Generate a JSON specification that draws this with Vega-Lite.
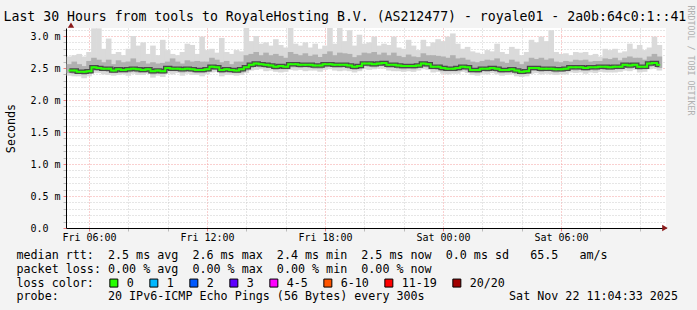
{
  "$schema": "https://vega.github.io/schema/vega-lite/v6.json",
  "width": 600,
  "height": 200,
  "autosize": {"type": "none"},
  "padding": {"left": 66, "top": 28, "right": 31, "bottom": 82},
  "background": "#f3f3f3",
  "config": {
    "font": "DejaVu Sans Mono",
    "view": {"fill": "#ffffff", "stroke": null},
    "axis": {"labelFont": "DejaVu Sans Mono", "labelFontSize": 10, "labelColor": "#000000", "titleFont": "DejaVu Sans Mono", "titleFontWeight": "normal", "titleColor": "#000000", "domainColor": "#000000", "domainWidth": 1}
  },
  "title": {
    "text": "Last 30 Hours from tools to RoyaleHosting B.V. (AS212477) - royale01 - 2a0b:64c0:1::41",
    "anchor": "start", "frame": "group", "font": "DejaVu Sans Mono", "fontSize": 13.2, "fontWeight": "normal", "color": "#000000",
    "dx": -62.5, "dy": 36, "offset": 7, "baseline": "alphabetic"
  },
  "resolve": {"axis": {"y": "independent"}},
  "data": {"values": [
    {"t":"2025-11-21T05:00","m":2.46,"lo":2.38,"ql":2.42,"qh":2.56,"hi":2.68,"loss":"0"},
    {"t":"2025-11-21T05:15","m":2.46,"lo":2.37,"ql":2.41,"qh":2.60,"hi":2.70,"loss":"0"},
    {"t":"2025-11-21T05:30","m":2.44,"lo":2.37,"ql":2.41,"qh":2.56,"hi":2.72,"loss":"0"},
    {"t":"2025-11-21T05:45","m":2.44,"lo":2.34,"ql":2.39,"qh":2.53,"hi":2.68,"loss":"0"},
    {"t":"2025-11-21T06:00","m":2.45,"lo":2.37,"ql":2.41,"qh":2.61,"hi":2.75,"loss":"0"},
    {"t":"2025-11-21T06:15","m":2.51,"lo":2.42,"ql":2.47,"qh":2.66,"hi":3.12,"loss":"0"},
    {"t":"2025-11-21T06:30","m":2.50,"lo":2.42,"ql":2.46,"qh":2.63,"hi":3.12,"loss":"0"},
    {"t":"2025-11-21T06:45","m":2.49,"lo":2.40,"ql":2.45,"qh":2.59,"hi":2.80,"loss":"0"},
    {"t":"2025-11-21T07:00","m":2.49,"lo":2.39,"ql":2.44,"qh":2.63,"hi":2.96,"loss":"0"},
    {"t":"2025-11-21T07:15","m":2.46,"lo":2.38,"ql":2.42,"qh":2.56,"hi":2.72,"loss":"0"},
    {"t":"2025-11-21T07:30","m":2.48,"lo":2.39,"ql":2.43,"qh":2.62,"hi":2.75,"loss":"0"},
    {"t":"2025-11-21T07:45","m":2.47,"lo":2.40,"ql":2.43,"qh":2.59,"hi":2.70,"loss":"0"},
    {"t":"2025-11-21T08:00","m":2.48,"lo":2.38,"ql":2.43,"qh":2.60,"hi":2.80,"loss":"0"},
    {"t":"2025-11-21T08:15","m":2.49,"lo":2.41,"ql":2.45,"qh":2.65,"hi":3.00,"loss":"0"},
    {"t":"2025-11-21T08:30","m":2.48,"lo":2.39,"ql":2.43,"qh":2.59,"hi":2.85,"loss":"0"},
    {"t":"2025-11-21T08:45","m":2.47,"lo":2.39,"ql":2.43,"qh":2.61,"hi":2.90,"loss":"0"},
    {"t":"2025-11-21T09:00","m":2.48,"lo":2.41,"ql":2.45,"qh":2.57,"hi":2.72,"loss":"0"},
    {"t":"2025-11-21T09:15","m":2.45,"lo":2.35,"ql":2.40,"qh":2.59,"hi":2.85,"loss":"0"},
    {"t":"2025-11-21T09:30","m":2.46,"lo":2.38,"ql":2.42,"qh":2.57,"hi":2.70,"loss":"0"},
    {"t":"2025-11-21T09:45","m":2.45,"lo":2.36,"ql":2.41,"qh":2.58,"hi":2.94,"loss":"0"},
    {"t":"2025-11-21T10:00","m":2.50,"lo":2.42,"ql":2.46,"qh":2.60,"hi":2.78,"loss":"0"},
    {"t":"2025-11-21T10:15","m":2.49,"lo":2.40,"ql":2.45,"qh":2.65,"hi":2.72,"loss":"0"},
    {"t":"2025-11-21T10:30","m":2.49,"lo":2.42,"ql":2.45,"qh":2.60,"hi":2.70,"loss":"0"},
    {"t":"2025-11-21T10:45","m":2.48,"lo":2.38,"ql":2.43,"qh":2.57,"hi":2.75,"loss":"0"},
    {"t":"2025-11-21T11:00","m":2.49,"lo":2.41,"ql":2.45,"qh":2.62,"hi":2.88,"loss":"0"},
    {"t":"2025-11-21T11:15","m":2.48,"lo":2.39,"ql":2.44,"qh":2.60,"hi":2.86,"loss":"0"},
    {"t":"2025-11-21T11:30","m":2.47,"lo":2.39,"ql":2.42,"qh":2.61,"hi":2.72,"loss":"0"},
    {"t":"2025-11-21T11:45","m":2.47,"lo":2.37,"ql":2.42,"qh":2.60,"hi":2.99,"loss":"0"},
    {"t":"2025-11-21T12:00","m":2.48,"lo":2.40,"ql":2.44,"qh":2.60,"hi":2.78,"loss":"0"},
    {"t":"2025-11-21T12:15","m":2.52,"lo":2.43,"ql":2.47,"qh":2.66,"hi":2.80,"loss":"0"},
    {"t":"2025-11-21T12:30","m":2.51,"lo":2.44,"ql":2.47,"qh":2.63,"hi":2.74,"loss":"0"},
    {"t":"2025-11-21T12:45","m":2.47,"lo":2.37,"ql":2.42,"qh":2.59,"hi":2.97,"loss":"0"},
    {"t":"2025-11-21T13:00","m":2.48,"lo":2.39,"ql":2.44,"qh":2.61,"hi":2.75,"loss":"0"},
    {"t":"2025-11-21T13:15","m":2.47,"lo":2.39,"ql":2.43,"qh":2.56,"hi":2.72,"loss":"0"},
    {"t":"2025-11-21T13:30","m":2.46,"lo":2.38,"ql":2.42,"qh":2.60,"hi":2.78,"loss":"0"},
    {"t":"2025-11-21T13:45","m":2.48,"lo":2.39,"ql":2.43,"qh":2.60,"hi":2.76,"loss":"0"},
    {"t":"2025-11-21T14:00","m":2.51,"lo":2.42,"ql":2.46,"qh":2.70,"hi":3.14,"loss":"0"},
    {"t":"2025-11-21T14:15","m":2.55,"lo":2.46,"ql":2.50,"qh":2.72,"hi":2.92,"loss":"0"},
    {"t":"2025-11-21T14:30","m":2.57,"lo":2.47,"ql":2.52,"qh":2.75,"hi":3.00,"loss":"0"},
    {"t":"2025-11-21T14:45","m":2.56,"lo":2.48,"ql":2.51,"qh":2.70,"hi":2.88,"loss":"0"},
    {"t":"2025-11-21T15:00","m":2.55,"lo":2.45,"ql":2.50,"qh":2.74,"hi":2.90,"loss":"0"},
    {"t":"2025-11-21T15:15","m":2.54,"lo":2.46,"ql":2.50,"qh":2.70,"hi":2.85,"loss":"0"},
    {"t":"2025-11-21T15:30","m":2.52,"lo":2.44,"ql":2.47,"qh":2.72,"hi":2.95,"loss":"0"},
    {"t":"2025-11-21T15:45","m":2.53,"lo":2.43,"ql":2.48,"qh":2.69,"hi":2.86,"loss":"0"},
    {"t":"2025-11-21T16:00","m":2.52,"lo":2.44,"ql":2.48,"qh":2.66,"hi":2.82,"loss":"0"},
    {"t":"2025-11-21T16:15","m":2.56,"lo":2.47,"ql":2.51,"qh":2.75,"hi":3.14,"loss":"0"},
    {"t":"2025-11-21T16:30","m":2.56,"lo":2.46,"ql":2.51,"qh":2.72,"hi":2.88,"loss":"0"},
    {"t":"2025-11-21T16:45","m":2.55,"lo":2.47,"ql":2.50,"qh":2.70,"hi":2.85,"loss":"0"},
    {"t":"2025-11-21T17:00","m":2.55,"lo":2.45,"ql":2.51,"qh":2.73,"hi":2.90,"loss":"0"},
    {"t":"2025-11-21T17:15","m":2.55,"lo":2.46,"ql":2.50,"qh":2.69,"hi":2.82,"loss":"0"},
    {"t":"2025-11-21T17:30","m":2.54,"lo":2.46,"ql":2.49,"qh":2.71,"hi":2.88,"loss":"0"},
    {"t":"2025-11-21T17:45","m":2.54,"lo":2.44,"ql":2.49,"qh":2.67,"hi":2.80,"loss":"0"},
    {"t":"2025-11-21T18:00","m":2.56,"lo":2.47,"ql":2.51,"qh":2.72,"hi":2.85,"loss":"0"},
    {"t":"2025-11-21T18:15","m":2.56,"lo":2.48,"ql":2.52,"qh":2.76,"hi":3.14,"loss":"0"},
    {"t":"2025-11-21T18:30","m":2.55,"lo":2.46,"ql":2.50,"qh":2.70,"hi":2.88,"loss":"0"},
    {"t":"2025-11-21T18:45","m":2.55,"lo":2.45,"ql":2.50,"qh":2.74,"hi":3.15,"loss":"0"},
    {"t":"2025-11-21T19:00","m":2.55,"lo":2.46,"ql":2.51,"qh":2.73,"hi":2.92,"loss":"0"},
    {"t":"2025-11-21T19:15","m":2.54,"lo":2.45,"ql":2.49,"qh":2.72,"hi":3.09,"loss":"0"},
    {"t":"2025-11-21T19:30","m":2.52,"lo":2.43,"ql":2.47,"qh":2.67,"hi":2.85,"loss":"0"},
    {"t":"2025-11-21T19:45","m":2.53,"lo":2.45,"ql":2.48,"qh":2.70,"hi":3.02,"loss":"0"},
    {"t":"2025-11-21T20:00","m":2.57,"lo":2.48,"ql":2.53,"qh":2.74,"hi":2.88,"loss":"0"},
    {"t":"2025-11-21T20:15","m":2.57,"lo":2.47,"ql":2.52,"qh":2.73,"hi":2.90,"loss":"0"},
    {"t":"2025-11-21T20:30","m":2.56,"lo":2.48,"ql":2.51,"qh":2.75,"hi":2.99,"loss":"0"},
    {"t":"2025-11-21T20:45","m":2.57,"lo":2.49,"ql":2.53,"qh":2.71,"hi":2.85,"loss":"0"},
    {"t":"2025-11-21T21:00","m":2.58,"lo":2.49,"ql":2.53,"qh":2.74,"hi":2.88,"loss":"0"},
    {"t":"2025-11-21T21:15","m":2.55,"lo":2.46,"ql":2.50,"qh":2.70,"hi":2.86,"loss":"0"},
    {"t":"2025-11-21T21:30","m":2.55,"lo":2.45,"ql":2.50,"qh":2.74,"hi":2.99,"loss":"0"},
    {"t":"2025-11-21T21:45","m":2.54,"lo":2.45,"ql":2.49,"qh":2.69,"hi":2.82,"loss":"0"},
    {"t":"2025-11-21T22:00","m":2.53,"lo":2.44,"ql":2.48,"qh":2.67,"hi":2.80,"loss":"0"},
    {"t":"2025-11-21T22:15","m":2.53,"lo":2.45,"ql":2.49,"qh":2.71,"hi":2.94,"loss":"0"},
    {"t":"2025-11-21T22:30","m":2.53,"lo":2.44,"ql":2.48,"qh":2.68,"hi":2.85,"loss":"0"},
    {"t":"2025-11-21T22:45","m":2.54,"lo":2.46,"ql":2.50,"qh":2.67,"hi":2.78,"loss":"0"},
    {"t":"2025-11-21T23:00","m":2.57,"lo":2.48,"ql":2.52,"qh":2.73,"hi":2.94,"loss":"0"},
    {"t":"2025-11-21T23:15","m":2.56,"lo":2.47,"ql":2.51,"qh":2.70,"hi":2.84,"loss":"0"},
    {"t":"2025-11-21T23:30","m":2.52,"lo":2.43,"ql":2.48,"qh":2.70,"hi":2.90,"loss":"0"},
    {"t":"2025-11-21T23:45","m":2.52,"lo":2.44,"ql":2.47,"qh":2.69,"hi":2.95,"loss":"0"},
    {"t":"2025-11-22T00:00","m":2.50,"lo":2.41,"ql":2.45,"qh":2.68,"hi":2.92,"loss":"0"},
    {"t":"2025-11-22T00:15","m":2.49,"lo":2.40,"ql":2.45,"qh":2.66,"hi":2.99,"loss":"0"},
    {"t":"2025-11-22T00:30","m":2.49,"lo":2.41,"ql":2.45,"qh":2.70,"hi":3.04,"loss":"0"},
    {"t":"2025-11-22T00:45","m":2.50,"lo":2.41,"ql":2.45,"qh":2.65,"hi":2.88,"loss":"0"},
    {"t":"2025-11-22T01:00","m":2.52,"lo":2.44,"ql":2.48,"qh":2.66,"hi":2.80,"loss":"0"},
    {"t":"2025-11-22T01:15","m":2.51,"lo":2.42,"ql":2.46,"qh":2.63,"hi":2.83,"loss":"0"},
    {"t":"2025-11-22T01:30","m":2.47,"lo":2.39,"ql":2.43,"qh":2.60,"hi":2.76,"loss":"0"},
    {"t":"2025-11-22T01:45","m":2.47,"lo":2.38,"ql":2.42,"qh":2.59,"hi":2.74,"loss":"0"},
    {"t":"2025-11-22T02:00","m":2.49,"lo":2.41,"ql":2.45,"qh":2.61,"hi":2.72,"loss":"0"},
    {"t":"2025-11-22T02:15","m":2.49,"lo":2.40,"ql":2.44,"qh":2.63,"hi":2.78,"loss":"0"},
    {"t":"2025-11-22T02:30","m":2.50,"lo":2.42,"ql":2.46,"qh":2.62,"hi":2.76,"loss":"0"},
    {"t":"2025-11-22T02:45","m":2.49,"lo":2.40,"ql":2.44,"qh":2.65,"hi":2.88,"loss":"0"},
    {"t":"2025-11-22T03:00","m":2.47,"lo":2.38,"ql":2.42,"qh":2.60,"hi":2.75,"loss":"0"},
    {"t":"2025-11-22T03:15","m":2.47,"lo":2.39,"ql":2.43,"qh":2.58,"hi":2.72,"loss":"0"},
    {"t":"2025-11-22T03:30","m":2.48,"lo":2.40,"ql":2.44,"qh":2.63,"hi":2.83,"loss":"0"},
    {"t":"2025-11-22T03:45","m":2.46,"lo":2.37,"ql":2.41,"qh":2.60,"hi":2.80,"loss":"0"},
    {"t":"2025-11-22T04:00","m":2.44,"lo":2.36,"ql":2.40,"qh":2.56,"hi":2.70,"loss":"0"},
    {"t":"2025-11-22T04:15","m":2.45,"lo":2.37,"ql":2.41,"qh":2.60,"hi":2.75,"loss":"0"},
    {"t":"2025-11-22T04:30","m":2.50,"lo":2.41,"ql":2.46,"qh":2.66,"hi":2.94,"loss":"0"},
    {"t":"2025-11-22T04:45","m":2.50,"lo":2.42,"ql":2.46,"qh":2.64,"hi":2.90,"loss":"0"},
    {"t":"2025-11-22T05:00","m":2.49,"lo":2.40,"ql":2.44,"qh":2.66,"hi":2.99,"loss":"0"},
    {"t":"2025-11-22T05:15","m":2.49,"lo":2.41,"ql":2.45,"qh":2.63,"hi":2.92,"loss":"0"},
    {"t":"2025-11-22T05:30","m":2.49,"lo":2.40,"ql":2.45,"qh":2.65,"hi":3.09,"loss":"0"},
    {"t":"2025-11-22T05:45","m":2.48,"lo":2.39,"ql":2.43,"qh":2.60,"hi":2.75,"loss":"0"},
    {"t":"2025-11-22T06:00","m":2.48,"lo":2.40,"ql":2.44,"qh":2.59,"hi":2.72,"loss":"0"},
    {"t":"2025-11-22T06:15","m":2.49,"lo":2.40,"ql":2.45,"qh":2.61,"hi":2.73,"loss":"0"},
    {"t":"2025-11-22T06:30","m":2.51,"lo":2.43,"ql":2.47,"qh":2.60,"hi":2.70,"loss":"0"},
    {"t":"2025-11-22T06:45","m":2.51,"lo":2.42,"ql":2.46,"qh":2.63,"hi":2.75,"loss":"0"},
    {"t":"2025-11-22T07:00","m":2.51,"lo":2.43,"ql":2.47,"qh":2.62,"hi":2.74,"loss":"0"},
    {"t":"2025-11-22T07:15","m":2.50,"lo":2.41,"ql":2.46,"qh":2.63,"hi":2.75,"loss":"0"},
    {"t":"2025-11-22T07:30","m":2.51,"lo":2.43,"ql":2.47,"qh":2.60,"hi":2.70,"loss":"0"},
    {"t":"2025-11-22T07:45","m":2.51,"lo":2.42,"ql":2.46,"qh":2.61,"hi":2.72,"loss":"0"},
    {"t":"2025-11-22T08:00","m":2.52,"lo":2.44,"ql":2.48,"qh":2.61,"hi":2.68,"loss":"0"},
    {"t":"2025-11-22T08:15","m":2.52,"lo":2.43,"ql":2.47,"qh":2.65,"hi":2.80,"loss":"0"},
    {"t":"2025-11-22T08:30","m":2.51,"lo":2.43,"ql":2.47,"qh":2.64,"hi":2.78,"loss":"0"},
    {"t":"2025-11-22T08:45","m":2.52,"lo":2.43,"ql":2.48,"qh":2.66,"hi":2.80,"loss":"0"},
    {"t":"2025-11-22T09:00","m":2.52,"lo":2.44,"ql":2.48,"qh":2.62,"hi":2.74,"loss":"0"},
    {"t":"2025-11-22T09:15","m":2.55,"lo":2.46,"ql":2.50,"qh":2.66,"hi":2.76,"loss":"0"},
    {"t":"2025-11-22T09:30","m":2.54,"lo":2.45,"ql":2.49,"qh":2.68,"hi":2.88,"loss":"0"},
    {"t":"2025-11-22T09:45","m":2.55,"lo":2.47,"ql":2.51,"qh":2.66,"hi":2.80,"loss":"0"},
    {"t":"2025-11-22T10:00","m":2.52,"lo":2.43,"ql":2.47,"qh":2.66,"hi":2.86,"loss":"0"},
    {"t":"2025-11-22T10:15","m":2.52,"lo":2.44,"ql":2.48,"qh":2.63,"hi":2.78,"loss":"0"},
    {"t":"2025-11-22T10:30","m":2.57,"lo":2.48,"ql":2.52,"qh":2.68,"hi":2.82,"loss":"0"},
    {"t":"2025-11-22T10:45","m":2.58,"lo":2.49,"ql":2.53,"qh":2.72,"hi":2.99,"loss":"0"},
    {"t":"2025-11-22T11:00","m":2.55,"lo":2.46,"ql":2.50,"qh":2.68,"hi":2.86,"loss":"0"}
  ]},
  "layer": [
    {
      "mark": {"type": "bar", "width": 5.6, "clip": true, "color": "#dadada"},
      "encoding": {
        "x": {
          "field": "t", "type": "temporal",
          "scale": {"domain": [{"year": 2025, "month": 11, "date": 21, "hours": 5, "minutes": 5}, {"year": 2025, "month": 11, "date": 22, "hours": 11, "minutes": 5}]},
          "axis": {
            "title": ["median rtt:\u00a0\u00a02.5 ms avg\u00a0\u00a02.6 ms max\u00a0\u00a02.4 ms min\u00a0\u00a02.5 ms now\u00a0\u00a00.0 ms sd\u00a0\u00a0\u00a065.5\u00a0\u00a0\u00a0am/s",
                      "packet loss: 0.00 % avg\u00a0\u00a00.00 % max\u00a0\u00a00.00 % min\u00a0\u00a00.00 % now",
                      "loss color:",
                      "probe:\u00a0\u00a0\u00a0\u00a0\u00a0\u00a0\u00a020 IPv6-ICMP Echo Pings (56 Bytes) every 300s\u00a0\u00a0\u00a0\u00a0\u00a0\u00a0\u00a0\u00a0\u00a0\u00a0\u00a0\u00a0Sat Nov 22 11:04:33 2025"],
            "titleX": -50, "titleY": 30.5, "titleAlign": "left", "titleAnchor": "start", "titleBaseline": "alphabetic",
            "titleFontSize": 11.7, "titleLineHeight": 13.8, "titleLimit": 1000,
            "values": [
              {"year": 2025, "month": 11, "date": 21, "hours": 6}, {"year": 2025, "month": 11, "date": 21, "hours": 7}, {"year": 2025, "month": 11, "date": 21, "hours": 8},
              {"year": 2025, "month": 11, "date": 21, "hours": 9}, {"year": 2025, "month": 11, "date": 21, "hours": 10}, {"year": 2025, "month": 11, "date": 21, "hours": 11},
              {"year": 2025, "month": 11, "date": 21, "hours": 12}, {"year": 2025, "month": 11, "date": 21, "hours": 13}, {"year": 2025, "month": 11, "date": 21, "hours": 14},
              {"year": 2025, "month": 11, "date": 21, "hours": 15}, {"year": 2025, "month": 11, "date": 21, "hours": 16}, {"year": 2025, "month": 11, "date": 21, "hours": 17},
              {"year": 2025, "month": 11, "date": 21, "hours": 18}, {"year": 2025, "month": 11, "date": 21, "hours": 19}, {"year": 2025, "month": 11, "date": 21, "hours": 20},
              {"year": 2025, "month": 11, "date": 21, "hours": 21}, {"year": 2025, "month": 11, "date": 21, "hours": 22}, {"year": 2025, "month": 11, "date": 21, "hours": 23},
              {"year": 2025, "month": 11, "date": 22, "hours": 0}, {"year": 2025, "month": 11, "date": 22, "hours": 1}, {"year": 2025, "month": 11, "date": 22, "hours": 2},
              {"year": 2025, "month": 11, "date": 22, "hours": 3}, {"year": 2025, "month": 11, "date": 22, "hours": 4}, {"year": 2025, "month": 11, "date": 22, "hours": 5},
              {"year": 2025, "month": 11, "date": 22, "hours": 6}, {"year": 2025, "month": 11, "date": 22, "hours": 7}, {"year": 2025, "month": 11, "date": 22, "hours": 8},
              {"year": 2025, "month": 11, "date": 22, "hours": 9}, {"year": 2025, "month": 11, "date": 22, "hours": 10}, {"year": 2025, "month": 11, "date": 22, "hours": 11}
            ],
            "labelExpr": "hours(datum.value) % 6 == 0 ? timeFormat(datum.value, '%a %H:%M') : ''",
            "labelOverlap": false, "labelFlush": false, "labelPadding": 1.4,
            "tickSize": 3,
            "tickColor": {"condition": {"test": "hours(datum.value) % 3 == 0", "value": "#f08080"}, "value": "#bbbbbb"},
            "grid": true,
            "gridColor": {"condition": {"test": "hours(datum.value) % 3 == 0", "value": "#f4a0a0"}, "value": "#cccccc"},
            "gridDash": [1, 2]
          }
        },
        "y": {
          "field": "lo", "type": "quantitative",
          "scale": {"domain": [0, 3.125], "nice": false, "zero": false},
          "axis": {
            "title": "Seconds", "titleFontSize": 11.7, "titleX": -56, "titleY": 100, "titleAngle": 270, "titleAlign": "center", "titleBaseline": "middle",
            "values": [0, 0.1, 0.2, 0.3, 0.4, 0.5, 0.6, 0.7, 0.8, 0.9, 1.0, 1.1, 1.2, 1.3, 1.4, 1.5, 1.6, 1.7, 1.8, 1.9, 2.0, 2.1, 2.2, 2.3, 2.4, 2.5, 2.6, 2.7, 2.8, 2.9, 3.0, 3.1],
            "labelExpr": "abs(datum.value * 2 - round(datum.value * 2)) < 0.001 ? (datum.value == 0 ? '0.0' : format(datum.value, '.1f') + ' m') : ''",
            "labelAlign": "left", "labelPadding": 33, "tickSize": 3, "labelOverlap": false, "labelFlush": false,
            "tickColor": {"condition": {"test": "abs(datum.value * 2 - round(datum.value * 2)) < 0.001", "value": "#f08080"}, "value": "#bbbbbb"},
            "grid": true,
            "gridColor": {"condition": {"test": "abs(datum.value * 2 - round(datum.value * 2)) < 0.001", "value": "#f4a0a0"}, "value": "#cccccc"},
            "gridDash": [1, 2]
          }
        },
        "y2": {"field": "hi"}
      }
    },
    {
      "mark": {"type": "bar", "width": 5.6, "clip": true, "color": "#b0b0b0"},
      "encoding": {
        "x": {"field": "t", "type": "temporal"},
        "y": {"field": "ql", "type": "quantitative", "axis": null},
        "y2": {"field": "qh"}
      }
    },
    {
      "mark": {"type": "line", "interpolate": "step", "clip": true, "color": "#4a4a4a", "strokeWidth": 4.5},
      "encoding": {
        "x": {"field": "t", "type": "temporal"},
        "y": {"field": "m", "type": "quantitative", "axis": null}
      }
    },
    {
      "mark": {"type": "point", "shape": "square", "filled": true, "size": 3, "clip": true, "opacity": 1},
      "encoding": {
        "x": {"field": "t", "type": "temporal"},
        "y": {"field": "m", "type": "quantitative", "axis": null},
        "color": {
          "field": "loss", "type": "nominal",
          "scale": {"domain": ["0", "1", "2", "3", "4-5", "6-10", "11-19", "20/20"], "range": ["#26ff00", "#00b8ff", "#0059ff", "#5e00ff", "#ff00ff", "#ff5500", "#ff0000", "#a10000"]},
          "legend": {
            "title": null,
            "orient": "none", "legendX": 42, "legendY": 249, "direction": "horizontal",
            "symbolType": "square", "symbolSize": 64, "symbolStrokeColor": "#000000", "symbolStrokeWidth": 1, "symbolOpacity": 1,
            "labelFont": "DejaVu Sans Mono", "labelFontSize": 11.7, "labelColor": "#000000", "labelOffset": 7,
            "columnPadding": 13, "padding": 0
          }
        }
      }
    },
    {
      "mark": {"type": "line", "interpolate": "step", "clip": true, "strokeWidth": 2, "color": "#26ff00"},
      "encoding": {
        "x": {"field": "t", "type": "temporal"},
        "y": {"field": "m", "type": "quantitative", "axis": null}
      }
    },
    {
      "data": {"values": [{"t": "2025-11-22T11:17", "v": 0}]},
      "mark": {"type": "point", "shape": "triangle-right", "filled": true, "size": 40, "color": "#8b1a1a", "opacity": 1},
      "encoding": {
        "x": {"field": "t", "type": "temporal"},
        "y": {"field": "v", "type": "quantitative", "axis": null}
      }
    },
    {
      "data": {"values": [{"t": "2025-11-21T05:05", "v": 3.17}]},
      "mark": {"type": "point", "shape": "triangle-up", "filled": true, "size": 40, "color": "#8b1a1a", "opacity": 1},
      "encoding": {
        "x": {"field": "t", "type": "temporal"},
        "y": {
          "field": "v", "type": "quantitative",
          "axis": {"orient": "right", "title": "RRDTOOL / TOBI OETIKER", "labels": false, "ticks": false, "domain": false, "grid": false,
                   "titleAngle": 90, "titleX": 23, "titleY": -23, "titleAlign": "left", "titleBaseline": "middle",
                   "titleFont": "DejaVu Sans Mono", "titleFontSize": 8.3, "titleColor": "#b0b0b0", "titleFontWeight": "normal"}
        }
      }
    }
  ]
}
